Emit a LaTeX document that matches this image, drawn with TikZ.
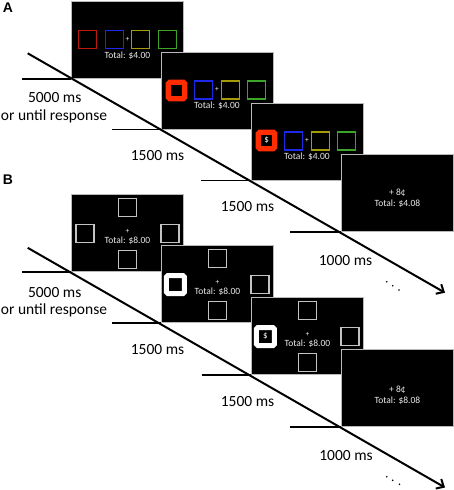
\documentclass[tikz,border=0pt]{standalone}
\usepackage{fontspec}
\setmainfont{Carlito}
\newfontfamily\labfont{Liberation Sans}
\usetikzlibrary{calc,arrows.meta}
\definecolor{sqred}{RGB}{190,25,15}
\definecolor{sqblue}{RGB}{30,40,235}
\definecolor{sqyellow}{RGB}{165,155,10}
\definecolor{sqgreen}{RGB}{60,165,40}
\definecolor{hlred}{RGB}{255,45,0}
\definecolor{sqgray}{RGB}{195,195,195}
\definecolor{scrtext}{RGB}{235,235,235}
\begin{document}
\begin{tikzpicture}[x=1pt,y=-1pt,
  screen/.style={fill=black, draw=gray!55, line width=0.8pt, minimum width=112pt, minimum height=77pt, inner sep=0pt, anchor=south west},
  sq/.style={draw, minimum size=18pt, inner sep=0pt, line width=1.2pt},
  hl/.style={draw, minimum size=16.5pt, inner sep=0pt, line width=5.25pt, rounded corners=1.5pt, text=white, font=\fontsize{9}{10}\selectfont},
  hlw/.style={draw=white, minimum size=18pt, inner sep=0pt, line width=5pt, rounded corners=1.5pt, text=white, font=\fontsize{9}{10}\selectfont},
  stxt/.style={text=scrtext, font=\fontsize{9.5}{10}\selectfont, inner sep=0pt},
  plus/.style={text=scrtext, font=\fontsize{7.5}{8}\selectfont, inner sep=0pt},
  tl/.style={font=\fontsize{15.5}{17}\selectfont, inner sep=0pt},
  panel/.style={font=\labfont\bfseries\fontsize{14}{16}\selectfont, inner sep=0pt},
  timeline/.style={line width=2pt, -{Straight Barb[length=6pt,width=11pt]}},
  tickline/.style={line width=1.5pt},
  dotmark/.style={fill=black}
]
\useasboundingbox (0,0) rectangle (454,490);

% ---------- Panel A ----------
\node[panel] (labA) at (8,8) {A};

\node[screen] (A1) at (71,79) {};
\node[sq, draw=sqred]    (A1a) at ($(A1.center)+(-39.9,-0.5)$) {};
\node[sq, draw=sqblue]   (A1b) at ($(A1.center)+(-13.3,-0.5)$) {};
\node[sq, draw=sqyellow] (A1c) at ($(A1.center)+(13.3,-0.5)$) {};
\node[sq, draw=sqgreen]  (A1d) at ($(A1.center)+(39.9,-0.5)$) {};
\node[plus] (A1p) at ($(A1.center)+(0,-1)$) {+};
\node[stxt] (A1t) at ($(A1.center)+(0,15.5)$) {Total: \$4.00};

\node[screen] (A2) at (160.5,129.3) {};
\node[hl, draw=hlred]    (A2a) at ($(A2.center)+(-40.3,0)$) {};
\node[sq, draw=sqblue]   (A2b) at ($(A2.center)+(-13.3,-0.5)$) {};
\node[sq, draw=sqyellow] (A2c) at ($(A2.center)+(13.3,-0.5)$) {};
\node[sq, draw=sqgreen]  (A2d) at ($(A2.center)+(39.9,-0.5)$) {};
\node[plus] (A2p) at ($(A2.center)+(0,-1)$) {+};
\node[stxt] (A2t) at ($(A2.center)+(0,15.5)$) {Total: \$4.00};

\node[screen] (A3) at (250.5,180.3) {};
\node[hl, draw=hlred]    (A3a) at ($(A3.center)+(-40.3,-1)$) {\$};
\node[sq, draw=sqblue]   (A3b) at ($(A3.center)+(-13.3,-0.5)$) {};
\node[sq, draw=sqyellow] (A3c) at ($(A3.center)+(13.3,-0.5)$) {};
\node[sq, draw=sqgreen]  (A3d) at ($(A3.center)+(39.9,-0.5)$) {};
\node[plus] (A3p) at ($(A3.center)+(0,-1)$) {+};
\node[stxt] (A3t) at ($(A3.center)+(0,15.5)$) {Total: \$4.00};

\node[screen] (A4) at (341,232) {};
\node[stxt] (A4p) at ($(A4.center)+(0,0)$) {+ 8¢};
\node[stxt] (A4t) at ($(A4.center)+(0,11)$) {Total: \$4.08};

\coordinate (tA1) at (22,79);
\coordinate (tA2) at (111.5,129.3);
\coordinate (tA3) at (201,180.3);
\coordinate (tA4) at (290,232);
\draw[tickline] (tA1) -- (A1.south west);
\draw[tickline] (tA2) -- (A2.south west);
\draw[tickline] (tA3) -- (A3.south west);
\draw[tickline] (tA4) -- (A4.south west);

\coordinate (sA) at (27.7,53.3);
\coordinate (eA) at (445,292.7);
\draw[timeline] (sA) -- (eA);

\node[tl] (LA1) at (54.7,98) {5000 ms};
\node[tl] (LA1b) at (54,116) {or until response};
\node[tl] (LA2) at (157.5,155.5) {1500 ms};
\node[tl] (LA3) at (247.5,206.5) {1500 ms};
\node[tl] (LA4) at (345.5,261) {1000 ms};

\fill[dotmark] (386.7,281.7) circle (0.9pt);
\fill[dotmark] (392.7,285.7) circle (0.9pt);
\fill[dotmark] (399,290) circle (0.9pt);

% ---------- Panel B ----------
\node[panel] (labB) at (8,180) {B};

\node[screen] (B1) at (71,272) {};
\node[sq, draw=sqgray] (B1t) at ($(B1.center)+(0,-25.5)$) {};
\node[sq, draw=sqgray] (B1b) at ($(B1.center)+(0,26.5)$) {};
\node[sq, draw=sqgray] (B1l) at ($(B1.center)+(-42.5,0.5)$) {};
\node[sq, draw=sqgray] (B1r) at ($(B1.center)+(42.5,0.5)$) {};
\node[plus] (B1p) at ($(B1.center)+(0,-1.2)$) {+};
\node[stxt] (B1x) at ($(B1.center)+(0,8)$) {Total: \$8.00};

\node[screen] (B2) at (161,323) {};
\node[sq, draw=sqgray] (B2t) at ($(B2.center)+(0,-25.5)$) {};
\node[sq, draw=sqgray] (B2b) at ($(B2.center)+(0,26.5)$) {};
\node[hlw] (B2l) at ($(B2.center)+(-42,0.5)$) {};
\node[sq, draw=sqgray] (B2r) at ($(B2.center)+(42.5,0.5)$) {};
\node[plus] (B2p) at ($(B2.center)+(0,-1.2)$) {+};
\node[stxt] (B2x) at ($(B2.center)+(0,8)$) {Total: \$8.00};

\node[screen] (B3) at (251,375) {};
\node[sq, draw=sqgray] (B3t) at ($(B3.center)+(0,-25.5)$) {};
\node[sq, draw=sqgray] (B3b) at ($(B3.center)+(0,26.5)$) {};
\node[hlw] (B3l) at ($(B3.center)+(-42,0.5)$) {\$};
\node[sq, draw=sqgray] (B3r) at ($(B3.center)+(42.5,0.5)$) {};
\node[plus] (B3p) at ($(B3.center)+(0,-1.2)$) {+};
\node[stxt] (B3x) at ($(B3.center)+(0,8)$) {Total: \$8.00};

\node[screen] (B4) at (341,427) {};
\node[stxt] (B4p) at ($(B4.center)+(0,1.5)$) {+ 8¢};
\node[stxt] (B4t) at ($(B4.center)+(0,12.5)$) {Total: \$8.08};

\coordinate (tB1) at (22,272);
\coordinate (tB2) at (112,323);
\coordinate (tB3) at (201.5,375);
\coordinate (tB4) at (290,427);
\draw[tickline] (tB1) -- (B1.south west);
\draw[tickline] (tB2) -- (B2.south west);
\draw[tickline] (tB3) -- (B3.south west);
\draw[tickline] (tB4) -- (B4.south west);

\coordinate (sB) at (27.7,247.8);
\coordinate (eB) at (445,487.5);
\draw[timeline] (sB) -- (eB);

\node[tl] (LB1) at (54.7,292.5) {5000 ms};
\node[tl] (LB1b) at (54,310.8) {or until response};
\node[tl] (LB2) at (157.5,350) {1500 ms};
\node[tl] (LB3) at (247.5,401.5) {1500 ms};
\node[tl] (LB4) at (346,455.7) {1000 ms};

\fill[dotmark] (386.7,476.7) circle (0.9pt);
\fill[dotmark] (392.7,480.3) circle (0.9pt);
\fill[dotmark] (399.5,484.3) circle (0.9pt);
\end{tikzpicture}
\end{document}
